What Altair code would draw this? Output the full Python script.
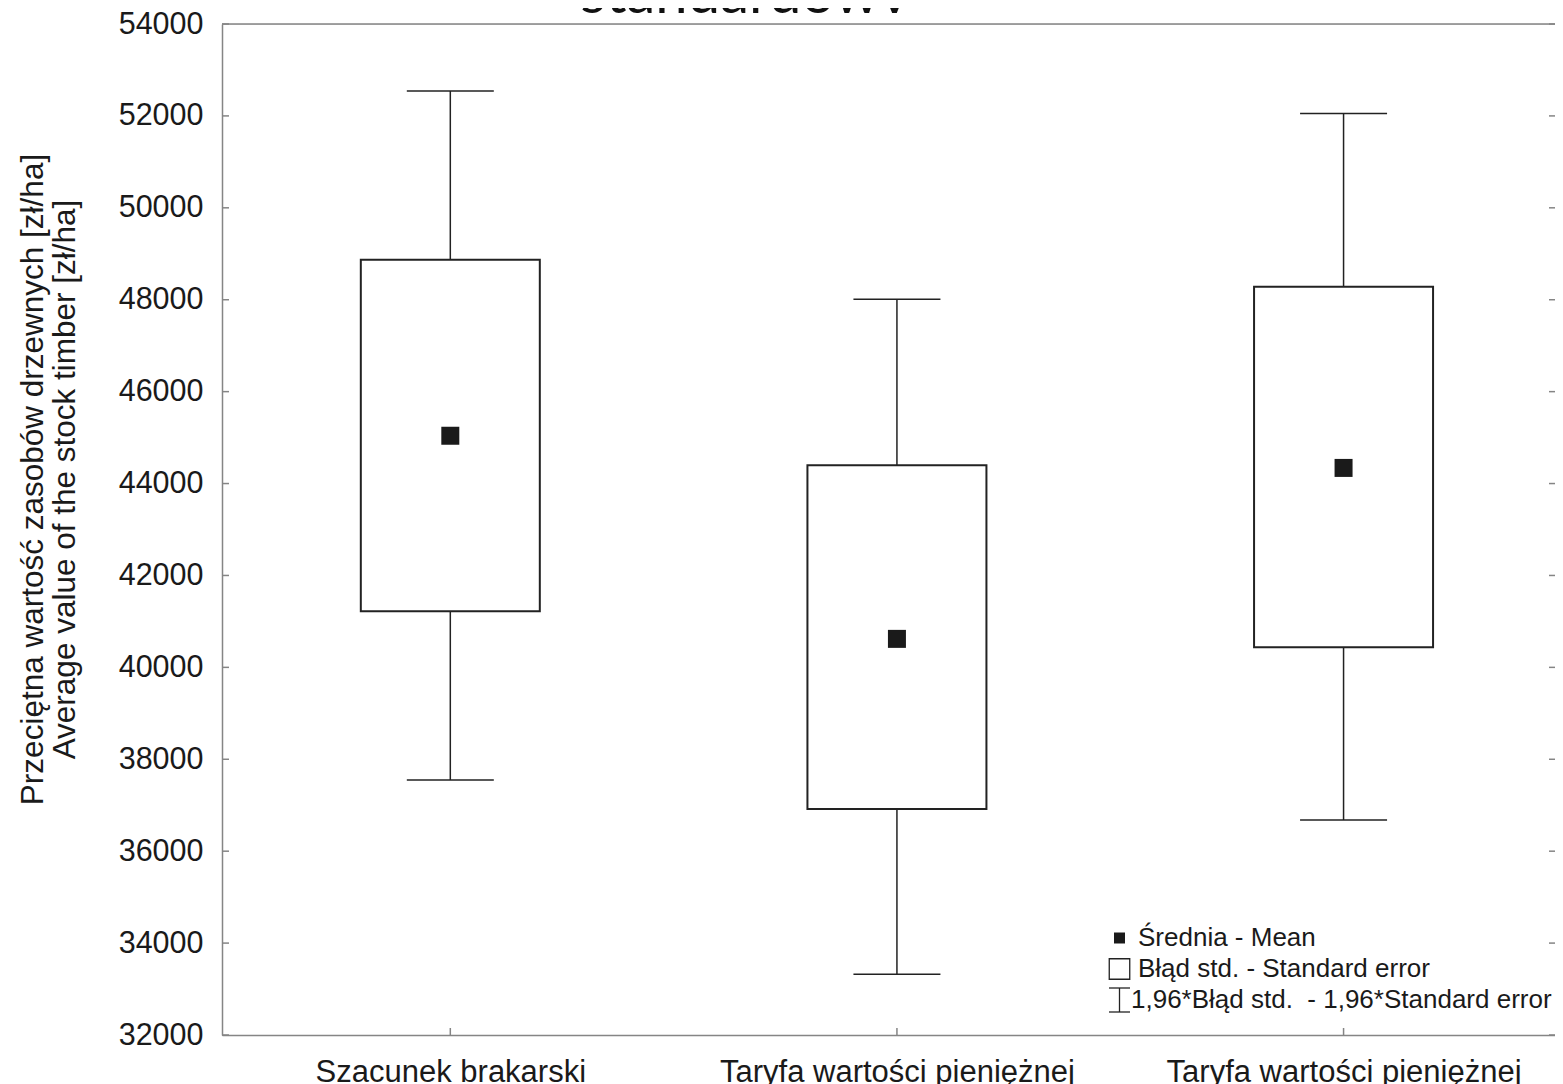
import json
import altair as alt
import pandas as pd

# ---------------- data ----------------
categories = ["Szacunek brakarski", "Taryfa wartości pieniężnej", "Taryfa wartości pieniężnej"]
means = [45040, 40620, 44340]
se_low = [41220, 36920, 40440]
se_high = [48870, 44400, 48280]
ci_low = [37550, 33320, 36680]
ci_high = [52540, 48010, 52050]
y_ticks = [32000, 34000, 36000, 38000, 40000, 42000, 44000, 46000, 48000, 50000, 52000, 54000]

title_text = "standardowv"
y_title = ["Przeciętna wartość zasobów drzewnych [zł/ha]",
           "Average value of the stock timber [zł/ha]"]
legend_labels = ["Średnia - Mean",
                 "Błąd std. - Standard error",
                 "1,96*Błąd std.\u00a0 - 1,96*Standard error"]

# ---------------- styling ----------------
W, H = 1333, 1011
STEP = 450.0
FONT = "Liberation Sans"
TXT = "#1a1a1a"
AX = "#858585"
DARK = "#222222"

df = pd.DataFrame({
    "idx": list(range(len(categories))),
    "mean": means,
    "se_low": se_low,
    "se_high": se_high,
    "ci_low": ci_low,
    "ci_high": ci_high,
})
ticks_df = pd.DataFrame({"v": y_ticks})
one = pd.DataFrame({"k": [0]})

label_expr = json.dumps(categories, ensure_ascii=False) + "[datum.value]"

x_scale = alt.Scale(domain=[-0.5, -0.5 + W / STEP], nice=False, zero=False)
x_axis = alt.Axis(values=list(range(len(categories))), labelExpr=label_expr, labelAngle=0,
                  ticks=False, title=None, grid=False, labelLimit=0, labelOverlap=False,
                  labelFlush=False, domainColor=AX, domainWidth=1.5, labelFont=FONT,
                  labelFontSize=31, labelColor=TXT, labelPadding=22)
x_enc = alt.X("idx:Q", scale=x_scale, axis=x_axis)

y_scale = alt.Scale(domain=[32000, 54000], nice=False, zero=False)
y_axis = alt.Axis(values=y_ticks, format="d", ticks=False, grid=False,
                  domainColor=AX, domainWidth=1.5, labelFont=FONT, labelFontSize=30.5,
                  labelColor=TXT, labelPadding=19,
                  title=y_title, titleFont=FONT, titleFontSize=31.5, titleFontWeight="normal",
                  titleColor=TXT, titleAngle=270, titleAlign="center",
                  titleBaseline="alphabetic", titleX=-180, titleY=455, titleLineHeight=32)


def Y(field):
    return alt.Y(field, type="quantitative", scale=y_scale, axis=y_axis)


whisker = alt.Chart(df).mark_rule(color=DARK, strokeWidth=1.5).encode(
    x=x_enc, y=Y("ci_low"), y2="ci_high")
cap_hi = alt.Chart(df).mark_tick(size=87, thickness=1.5, color=DARK, opacity=1,
                                 orient="horizontal").encode(x=x_enc, y=Y("ci_high"))
cap_lo = alt.Chart(df).mark_tick(size=87, thickness=1.5, color=DARK, opacity=1,
                                 orient="horizontal").encode(x=x_enc, y=Y("ci_low"))
box = alt.Chart(df).mark_bar(size=179, fill="white", stroke=DARK, strokeWidth=2,
                             orient="vertical").encode(x=x_enc, y=Y("se_low"), y2="se_high")
mean_pt = alt.Chart(df).mark_square(size=324, color=TXT, opacity=1).encode(
    x=x_enc, y=Y("mean"))

# inward axis ticks
left_ticks = alt.Chart(ticks_df).mark_rule(color=AX, strokeWidth=1.5).encode(
    y=Y("v"), x=alt.value(0), x2=alt.value(7))
right_ticks = alt.Chart(ticks_df).mark_rule(color=AX, strokeWidth=1.5).encode(
    y=Y("v"), x=alt.value(W - 6), x2=alt.value(W))
bottom_ticks = alt.Chart(df).mark_rule(color=AX, strokeWidth=1.5).encode(
    x=x_enc, y=alt.value(H - 7), y2=alt.value(H))
top_border = alt.Chart(one).mark_rule(color=AX, strokeWidth=1.5).encode(
    x=alt.value(0), x2=alt.value(W + 20), y=alt.value(0))

# cropped title (cut by the top edge, as in the source image)
title = alt.Chart(one).mark_text(text=title_text, font="Lato", fontSize=58, color="#111111",
                                 align="center", baseline="alphabetic").encode(
    x=alt.value(523), y=alt.value(-11))

# legend (drawn by hand)
lx = 897.5
leg_sq = alt.Chart(one).mark_square(size=121, color=TXT, opacity=1).encode(
    x=alt.value(lx), y=alt.value(914))
leg_box = alt.Chart(one).mark_point(shape="square", size=420, filled=False, color=DARK,
                                    strokeWidth=1.3, opacity=1).encode(
    x=alt.value(lx), y=alt.value(945))
leg_v = alt.Chart(one).mark_rule(color=DARK, strokeWidth=1.3).encode(
    x=alt.value(lx), y=alt.value(964), y2=alt.value(988))
leg_t = alt.Chart(one).mark_rule(color=DARK, strokeWidth=1.3).encode(
    x=alt.value(lx - 10.5), x2=alt.value(lx + 10.5), y=alt.value(964))
leg_b = alt.Chart(one).mark_rule(color=DARK, strokeWidth=1.3).encode(
    x=alt.value(lx - 10.5), x2=alt.value(lx + 10.5), y=alt.value(988))

leg_text = []
for lab, xx, yy in zip(legend_labels, [916, 916, 909], [914, 945, 976]):
    leg_text.append(alt.Chart(one).mark_text(text=lab, font=FONT, fontSize=26, color=TXT,
                                             align="left", baseline="middle").encode(
        x=alt.value(xx), y=alt.value(yy)))

chart = alt.layer(
    whisker, cap_hi, cap_lo, box, mean_pt,
    left_ticks, right_ticks, bottom_ticks, top_border, title,
    leg_sq, leg_box, leg_v, leg_t, leg_b, *leg_text,
).properties(
    width=W, height=H,
    autosize=alt.AutoSizeParams(type="none"),
    padding={"left": 214, "top": 16, "right": 0, "bottom": 49},
).configure_view(stroke=None).configure(background="white")

chart.save("out.html", embed_options={"renderer": "svg", "actions": False})
